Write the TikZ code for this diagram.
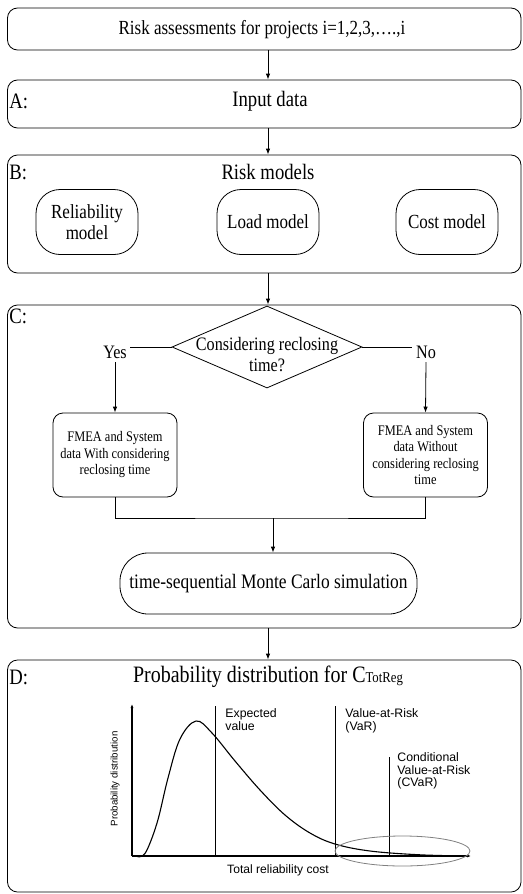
\documentclass[tikz,border=0pt]{standalone}
\usepackage{fontspec}
\setmainfont{Liberation Serif}[FakeStretch=0.85]
\newfontfamily\plotfont{Liberation Sans}
\usetikzlibrary{shapes.geometric,arrows.meta}

\begin{document}
\begin{tikzpicture}[x=1pt,y=-1pt,line width=.8pt,>={Latex[length=6pt,width=4.5pt]}]
\tikzset{section/.style={draw,rounded corners=10pt,minimum width=513.5pt,inner sep=0pt},
	head/.style={font=\fontsize{20}{24}\selectfont},
	title/.style={font=\fontsize{22}{24}\selectfont},
	tag/.style={anchor=west,inner sep=1pt,font=\fontsize{22}{24}\selectfont},
	model/.style={draw,rounded corners=24pt,minimum width=102pt,minimum height=65pt,
		align=center,font=\fontsize{20}{21}\selectfont},
	answer/.style={font=\fontsize{19}{21}\selectfont},
	databox/.style={draw,rounded corners=10pt,minimum width=124pt,minimum height=84pt,
		align=center,font=\fontsize{14.6}{16.5}\selectfont},
	plotlbl/.style={anchor=north west,align=left,inner sep=0pt,
		font=\plotfont\fontsize{12.3}{12.8}\selectfont}}

\useasboundingbox (0,0) rectangle (522,894);

\coordinate (spine) at (268,0);

\node[section,minimum height=42pt] (proj) at (264.25,29) {};
\node[head] (projt) at (262,30) {Risk assessments for projects i=1,2,3,….,i};

\node[section,minimum height=48pt] (secA) at (264.25,104) {};
\node[tag] (tagA) at (8,101) {A:};
\node[title] (inp) at (270,101) {Input data};

\node[section,minimum height=118pt] (secB) at (264.25,214) {};
\node[tag] (tagB) at (8,172) {B:};
\node[title] (riskm) at (268,172) {Risk models};
\node[model] (relm) at (87,222) {Reliability\\model};
\node[model] (loadm) at (268,222) {Load model};
\node[model] (costm) at (447,222) {Cost model};

\node[section,minimum height=323pt] (secC) at (264.25,466.5) {};
\node[tag] (tagC) at (8,316) {C:};
\node[draw,diamond,minimum width=190pt,minimum height=82pt,inner sep=0pt,
	font=\fontsize{19}{21}\selectfont] (dec) at (267,347)
	{\raisebox{-14pt}[0pt][0pt]{\makebox[0pt]{\begin{tabular}{@{}c@{}}Considering reclosing\\time?\end{tabular}}}};
\node[answer] (yes) at (115,352) {Yes};
\node[answer] (no) at (426,352) {No};
\node[databox] (fmeaY) at (115,455) {FMEA and System\\data With considering\\reclosing time};
\node[databox] (fmeaN) at (425.5,455) {FMEA and System\\data Without\\considering reclosing\\time};
\node[draw,rounded corners=28pt,minimum width=297pt,minimum height=61pt,
	font=\fontsize{20.5}{22}\selectfont] (mc) at (268.5,583.5) {time-sequential Monte Carlo simulation};
\coordinate (join) at (273,518);

\node[section,minimum height=232pt] (secD) at (264.25,776) {};
\node[tag] (tagD) at (8,677) {D:};
\node[font=\fontsize{23.5}{25}\selectfont] (probd) at (268,677) {Probability distribution for C{\fontsize{15}{15}\selectfont TotReg}};

\draw[->] (proj.south -| spine) -- (secA.north -| spine);
\draw[->] (secA.south -| spine) -- (secB.north -| spine);
\draw[->] (secB.south -| spine) -- (secC.north -| spine);
\draw[->] (secC.south -| spine) -- (secD.north -| spine);

\draw (dec.west) -- (dec.west -| yes.east);
\draw (dec.east) -- (dec.east -| no.west);
\draw[->] (yes.south) -- (fmeaY.north);
\draw[->] (no.south) -- (fmeaN.north);
\draw (fmeaY.south) |- (join) -| (fmeaN.south);
\draw[->] (join) -- (mc.north -| join);

\begin{scope}[>={Latex[length=4pt,width=3pt]}]
\coordinate (orig) at (132,856);
\draw[->,line width=1.1pt] (orig) -- (132,704);
\draw[->,line width=1.1pt] (orig) -- (471,856);
\draw (215,706) -- (215,856);
\draw (335,706) -- (335,856);
\draw (389,757) -- (389,856);
\draw[line width=1.1pt] plot[smooth,tension=.6] coordinates {(136,856) (145,853.5) (157,823) (168,778) (180,739) (196,721) (212,733) (235,761) (260,790) (285,815) (310,833) (335,844) (370,851) (420,854.8) (468,856)};
\draw[gray] (402.5,851) ellipse [x radius=67.5pt,y radius=15pt];
\node[plotlbl] (ev) at (225,708) {Expected\\value};
\node[plotlbl] (var) at (345,708) {Value-at-Risk\\(VaR)};
\node[plotlbl] (cvar) at (397,752) {Conditional\\Value-at-Risk\\(CVaR)};
\node[font=\plotfont\fontsize{12.1}{13}\selectfont] (xlbl) at (278,870) {Total reliability cost};
\node[rotate=90,font=\plotfont\fontsize{9.7}{10}\selectfont] (ylbl) at (115,779) {Probability distribution};
\end{scope}

\end{tikzpicture}
\end{document}
